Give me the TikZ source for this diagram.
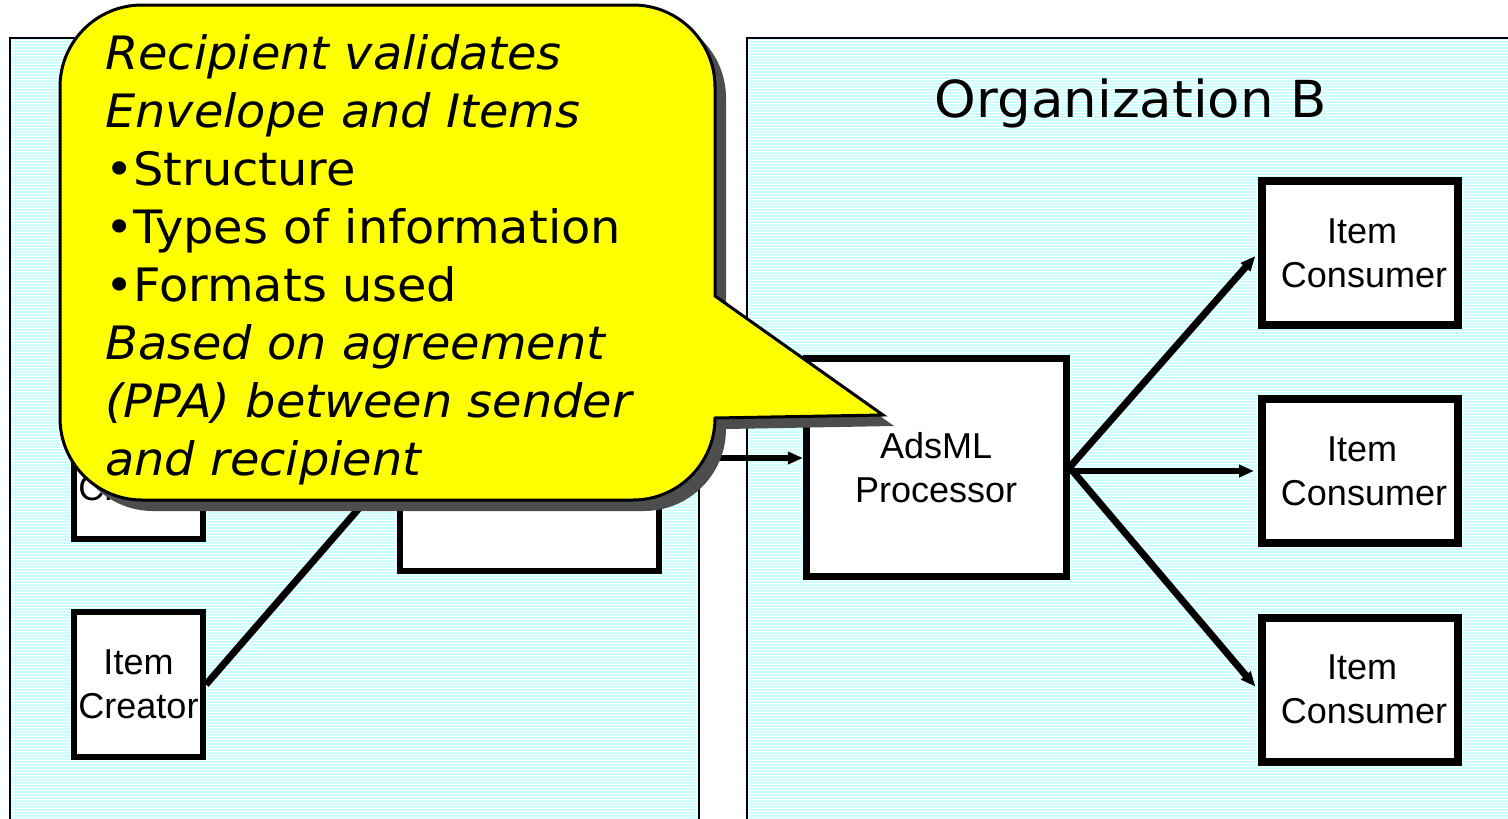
\documentclass[tikz,border=0pt]{standalone}
\usepackage{fontspec}
\setmainfont{Liberation Sans}
\newfontfamily\callfont[FakeStretch=1.04,ItalicFont={DejaVu Sans Oblique}]{DejaVu Sans}
\usetikzlibrary{arrows.meta,calc}
\definecolor{panelcyan}{HTML}{CCFFFF}
\definecolor{calloutyellow}{HTML}{FFFF00}
\definecolor{shadowgray}{HTML}{4D4D4D}
\tikzset{
  unitbox/.style={draw=black, fill=white, inner sep=0pt, align=center,
    font=\fontsize{36}{44}\selectfont},
  creatorbox/.style={unitbox, line width=6pt, minimum width=129pt, minimum height=145pt},
  packagerbox/.style={unitbox, line width=6pt, minimum width=258.5pt, minimum height=213pt},
  procbox/.style={unitbox, line width=7pt, minimum width=259.6pt, minimum height=218pt},
  consumerbox/.style={unitbox, line width=8pt, minimum width=196pt, minimum height=144.5pt},
  link/.style={line width=7pt},
  flow/.style={link, -{Triangle[length=15pt,width=12pt]}},
  calltext/.style={anchor=base west, inner sep=0pt, text=black,
    font=\callfont\fontsize{46}{58}\selectfont},
  titletext/.style={anchor=base, inner sep=0pt, font=\callfont\fontsize{51}{60}\selectfont},
  panelborder/.style={line width=2pt},
}
% speech-bubble outline with a wedge pointing to the processor
\def\calloutshape{(142,5) -- (633,5) .. controls (678.3,5) and (715,41.7) .. (715,87)
  -- (715,296) -- (883,415) -- (715,418)
  .. controls (715,463.3) and (678.3,500) .. (633,500) -- (142,500)
  .. controls (96.7,500) and (60,463.3) .. (60,418) -- (60,87)
  .. controls (60,41.7) and (96.7,5) .. (142,5) -- cycle}
\begin{document}
\begin{tikzpicture}[x=1pt,y=-1pt]
\useasboundingbox (0,0) rectangle (1508,819);
\fill[white] (0,0) rectangle (1508,819);

% the two organisation panels, light cyan with fine white rules
\begin{scope}
  \clip (10,38) rectangle (699,830) (747,38) rectangle (1530,830);
  \fill[panelcyan] (0,0) rectangle (1530,830);
  \foreach \yy in {40,43,...,826} \draw[white, line width=1pt] (0,\yy) -- (1530,\yy);
\end{scope}
\draw[panelborder] (10,830) -- (10,38) -- (699,38) -- (699,830);
\draw[panelborder] (747,830) -- (747,38) -- (1530,38);

\node[titletext] (orgB) at (1131,117) {Organization B};

% boxes
\node[creatorbox] (creatorA) at (138.5,466.5) {\phantom{Item}\\Creator};
\node[creatorbox] (creatorB) at (138.5,684.5) {Item\\Creator};
\node[packagerbox] (packager) at (529.25,464.5) {};
\node[procbox] (processor) at (936.2,467.3) {AdsML\\Processor};
\node[consumerbox] (consumer1) at (1360,253) {\hspace*{4pt}Item\\\hspace*{8pt}Consumer};
\node[consumerbox] (consumer2) at (1360,471) {\hspace*{4pt}Item\\\hspace*{8pt}Consumer};
\node[consumerbox] (consumer3) at (1360,689.75) {\hspace*{4pt}Item\\\hspace*{8pt}Consumer};

% connectors
\coordinate (feedlevel) at (0,458);
\draw[link] (creatorB.east) -- (packager.west);
\draw[flow, line width=6pt] (packager.east |- feedlevel) -- (processor.west |- feedlevel);
\draw[flow, shorten >=4pt] (processor.east) -- (consumer1.west);
\draw[flow, line width=6pt, shorten >=4pt] (processor.east |- consumer2.west) -- (consumer2.west);
\draw[flow, shorten >=4pt] (processor.east) -- (consumer3.west);

% callout with drop shadow
\fill[shadowgray, shift={(11,11)}] \calloutshape;
\filldraw[fill=calloutyellow, draw=black, line width=3pt, line join=miter] \calloutshape;

\node[calltext] (cl1) at (105,69)  {\itshape Recipient validates};
\node[calltext] (cl2) at (105,127) {\itshape Envelope and Items};
\node[calltext] (cl3) at (105,185) {•Structure};
\node[calltext] (cl4) at (105,243) {•Types of information};
\node[calltext] (cl5) at (105,301) {•Formats used};
\node[calltext] (cl6) at (105,359) {\itshape Based on agreement};
\node[calltext] (cl7) at (105,417) {\itshape (PPA) between sender};
\node[calltext] (cl8) at (105,475) {\itshape and recipient};
\end{tikzpicture}
\end{document}
